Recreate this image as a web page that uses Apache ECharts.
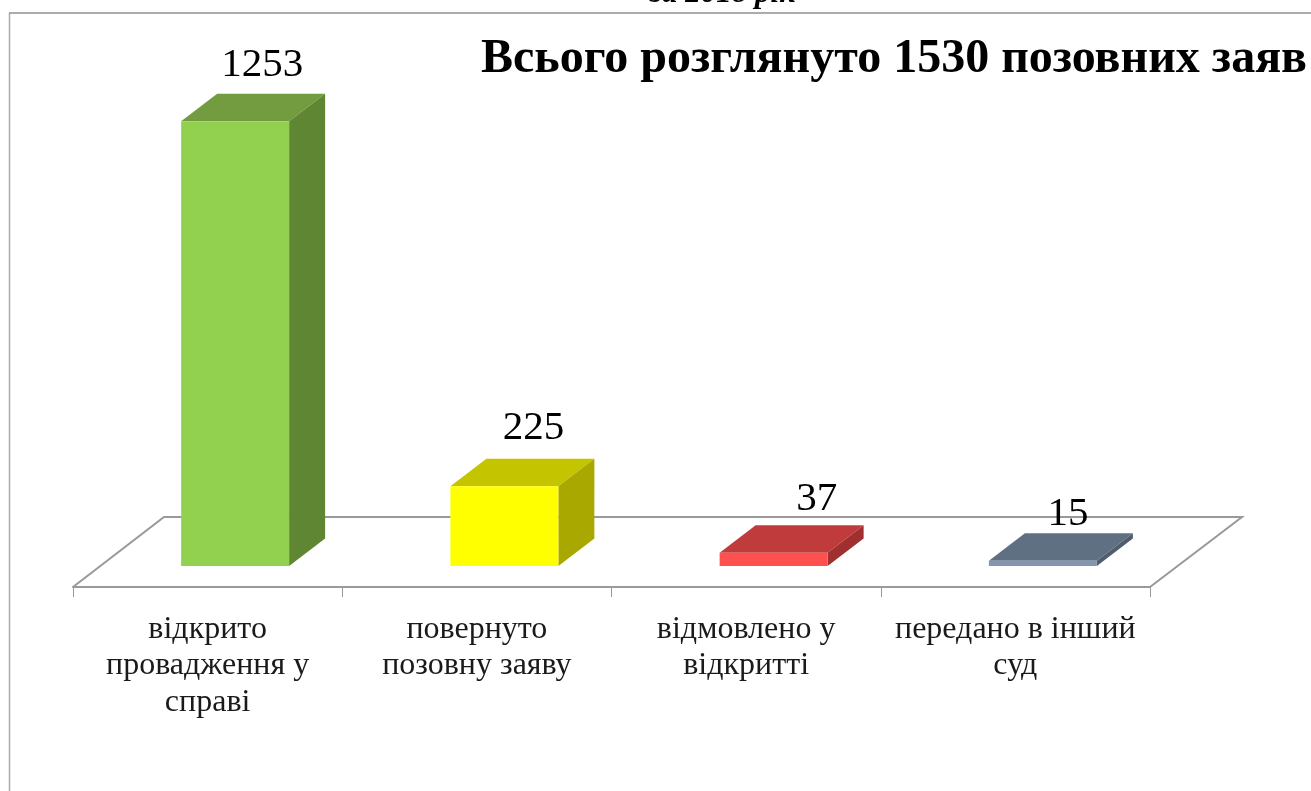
<!DOCTYPE html>
<html>
<head>
<meta charset="utf-8">
<title>Позовні заяви</title>
<script src="https://cdn.jsdelivr.net/npm/echarts@6/dist/echarts.min.js"></script>
<style>
  html, body { margin: 0; padding: 0; background: #fff; overflow: hidden; }
  #main { width: 1311px; height: 791px; }
</style>
</head>
<body>
<div id="main"></div>
<script>
const categories = ["відкрито\nпровадження у\nсправі", "повернуто\nпозовну заяву", "відмовлено у\nвідкритті", "передано в інший\nсуд"];
const values = [1253, 225, 37, 15];

const frontColors = ["#92D050", "#FFFF00", "#FF5050", "#8497B0"];
const topColors = ["#729C3F", "#C4C400", "#C03C3C", "#607083"];
const sideColors = ["#5F8632", "#A8A800", "#A03030", "#4F5D6F"];
// the value labels sit by hand in the original, offset from the top of the front face
const labelShift = [[27, -56], [29, -58], [43, -54], [25, -46]];

const fontFamily = "Liberation Serif";
const depthX = 36;
const depthY = 27.5;
const floorX = 91;
const floorY = 70;
const floorFront = 21; // axis line is this far below the bar base
const barOffsetX = 27.5;

function poly(points, fill) {
  return { type: "polygon", shape: { points: points }, style: { fill: fill } };
}

function renderBar(params, api) {
  const i = api.value(0);
  const top = api.coord([i, api.value(1)]);
  const base = api.coord([i, 0]);
  const w = api.size([1, 0])[0] * 0.401;
  const x0 = top[0] + barOffsetX - w / 2;
  const x1 = x0 + w;
  return {
    type: "group",
    children: [
      poly([[x0, top[1]], [x1, top[1]], [x1 + depthX, top[1] - depthY], [x0 + depthX, top[1] - depthY]], topColors[i]),
      poly([[x1, top[1]], [x1 + depthX, top[1] - depthY], [x1 + depthX, base[1] - depthY], [x1, base[1]]], sideColors[i]),
      { type: "rect", shape: { x: x0, y: top[1], width: w, height: base[1] - top[1] }, style: { fill: frontColors[i] } },
      {
        type: "text",
        z2: 10,
        style: {
          x: (x0 + x1) / 2 + labelShift[i][0],
          y: top[1] + labelShift[i][1],
          text: String(api.value(1)),
          font: "41px '" + fontFamily + "'",
          fill: "#000",
          align: "center",
          verticalAlign: "middle",
        },
      },
    ],
  };
}

function renderFloor(params, api) {
  const band = api.size([1, 0])[0];
  const base = api.coord([0, 0]);
  const left = base[0] - band / 2;
  const right = left + band * categories.length;
  const y = base[1] + floorFront;
  return {
    type: "polyline",
    shape: { points: [[left, y], [left + floorX, y - floorY], [right + floorX + 1, y - floorY], [right, y]] },
    style: { fill: "none", stroke: "#999999", lineWidth: 2 },
  };
}

const myChart = echarts.init(document.getElementById("main"));
myChart.setOption({
  animation: false,
  backgroundColor: "#fff",
  textStyle: { fontFamily: fontFamily },
  title: [
    {
      text: "Всього розглянуто 1530 позовних заяв",
      left: 476,
      top: 31,
      textStyle: { fontFamily: fontFamily, fontSize: 48, fontWeight: "bold", color: "#000" },
    },
    {
      text: "за 2018 рік",
      left: 645,
      top: -27,
      textStyle: { fontFamily: fontFamily, fontSize: 31, fontWeight: "bold", fontStyle: "italic", color: "#000" },
    },
  ],
  graphic: [
    {
      type: "line",
      shape: { x1: 9.5, y1: 13, x2: 9.5, y2: 791 },
      style: { stroke: "#aaaaaa", lineWidth: 1.5 },
    },
    {
      type: "line",
      shape: { x1: 9, y1: 13, x2: 1311, y2: 13 },
      style: { stroke: "#909090", lineWidth: 1.5 },
    },
  ],
  grid: { left: 73, width: 1077, top: 69, height: 497 },
  xAxis: {
    type: "category",
    data: categories,
    offset: floorFront,
    axisLine: { show: true, onZero: false, lineStyle: { color: "#999999", width: 2 } },
    axisTick: { show: true, length: 10, lineStyle: { color: "#999999", width: 1 } },
    axisLabel: { interval: 0, margin: 24, fontFamily: fontFamily, fontSize: 32, lineHeight: 36.5, color: "#1a1a1a" },
  },
  yAxis: { type: "value", min: 0, max: 1400, show: false, splitLine: { show: false } },
  series: [
    { type: "custom", silent: true, z: 1, clip: false, renderItem: renderFloor, encode: { x: 0, y: 1 }, data: [[0, 0]] },
    {
      type: "custom",
      silent: true,
      z: 5,
      clip: false,
      renderItem: renderBar,
      encode: { x: 0, y: 1 },
      data: values.map((v, i) => [i, v]),
    },
  ],
});
</script>
</body>
</html>
